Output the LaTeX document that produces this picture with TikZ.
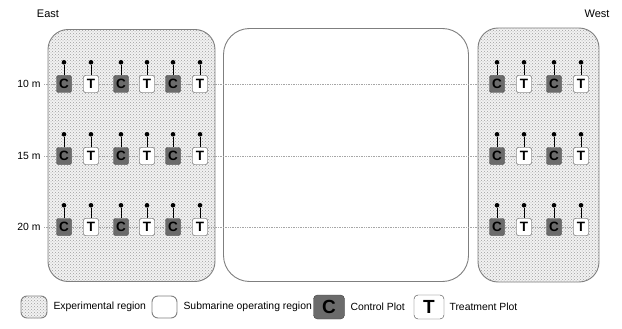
\documentclass[tikz,border=0pt]{standalone}
\usepackage{fontspec}
\setmainfont{Liberation Sans}
\usetikzlibrary{patterns}
\definecolor{plotgray}{HTML}{6B6B6B}
\definecolor{edgegray}{HTML}{7F7F7F}

\begin{document}
\begin{tikzpicture}[x=1pt,y=-1pt,font=\fontsize{10.4}{12}\selectfont]
 \tikzstyle{expreg}=[draw=edgegray, line width=0.9pt, rounded corners=20pt, preaction={fill=gray!10}, pattern=crosshatch dots, pattern color=gray!75, inner sep=0]
 \tikzstyle{subreg}=[draw=edgegray, line width=0.9pt, rounded corners=26pt, fill=white, inner sep=0]
 \tikzstyle{cplot}=[draw=black!75, fill=plotgray, rounded corners=2pt, minimum width=15pt, minimum height=17pt, inner sep=0, font=\bfseries\fontsize{13.5}{13.5}\selectfont]
 \tikzstyle{tplot}=[cplot, fill=white]
 \tikzstyle{pin}=[circle, fill=black, inner sep=0, minimum size=4.6pt]
 \tikzstyle{rowline}=[gray!70, densely dotted, line width=0.7pt]
 \useasboundingbox (0,0) rectangle (622,329);
 %
 \node[font=\fontsize{11}{12}\selectfont] (east) at (48,14) {East};
 \node[font=\fontsize{11}{12}\selectfont] (west) at (597,14) {West};
 %
 \node[expreg, minimum width=167pt, minimum height=252pt] (ereg) at (131.5,155.5) {};
 \node[subreg, minimum width=245pt, minimum height=253pt] (sreg) at (346,155) {};
 \node[expreg, minimum width=121pt, minimum height=254pt] (wreg) at (538.5,155) {};
 %
 \foreach \y/\d in {84/10, 156/15, 227/20} {
  \node (r\d) at (29,\y) {\d\ m};
  \node[cplot] (e1-\d) at (64,\y) {C};
  \node[tplot] (e2-\d) at (91,\y) {T};
  \node[cplot] (e3-\d) at (121,\y) {C};
  \node[tplot] (e4-\d) at (147,\y) {T};
  \node[cplot] (e5-\d) at (173,\y) {C};
  \node[tplot] (e6-\d) at (200,\y) {T};
  \node[cplot] (w1-\d) at (497,\y) {C};
  \node[tplot] (w2-\d) at (524,\y) {T};
  \node[cplot] (w3-\d) at (554,\y) {C};
  \node[tplot] (w4-\d) at (581,\y) {T};
  %%
  \draw[rowline] (r\d) -- (e1-\d) -- (e2-\d) -- (e3-\d) -- (e4-\d) -- (e5-\d) -- (e6-\d)
   -- (w1-\d) -- (w2-\d) -- (w3-\d) -- (w4-\d);
  \foreach \p in {e1,e2,e3,e4,e5,e6,w1,w2,w3,w4} {
   \node[pin] (\p-\d-top) at ([yshift=13pt]\p-\d.north) {};
   \draw[line width=0.8pt] (\p-\d-top) -- (\p-\d);
  }
 }
 %
 \node[expreg, rounded corners=6pt, minimum width=26pt, minimum height=22pt] (legexp) at (34,307) {};
 \node[anchor=west] (legexptxt) at (50,307) {Experimental region};
 \node[subreg, rounded corners=6pt, minimum width=25pt, minimum height=22pt] (legsub) at (164.5,307) {};
 \node[anchor=west] (legsubtxt) at (180,307) {Submarine operating region};
 \node[cplot, rounded corners=4pt, minimum width=31pt, minimum height=24pt, font=\bfseries\fontsize{19}{19}\selectfont] (legc) at (329,307) {C};
 \node[anchor=west] (legctxt) at (347,307) {Control Plot};
 \node[tplot, rounded corners=4pt, minimum width=30pt, minimum height=24pt, font=\bfseries\fontsize{19}{19}\selectfont] (legt) at (429,307) {T};
 \node[anchor=west] (legttxt) at (446,307) {Treatment Plot};
\end{tikzpicture}
\end{document}
